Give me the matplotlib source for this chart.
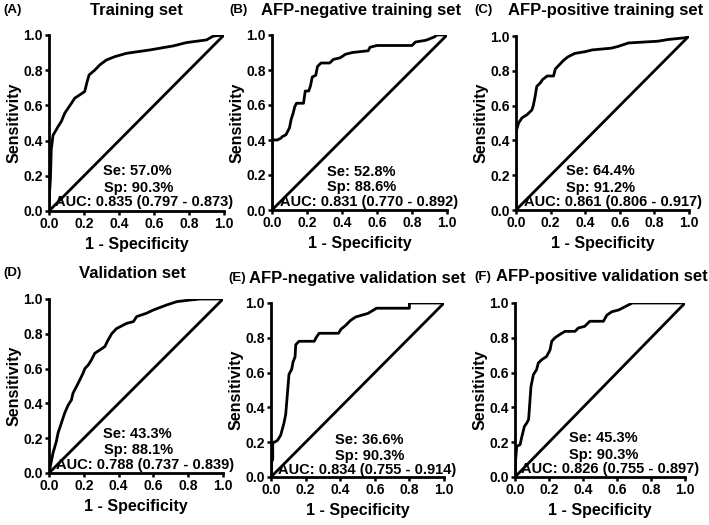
import matplotlib
matplotlib.use("Agg")
import matplotlib.pyplot as plt

plt.rcParams['font.family'] = ['Liberation Sans', 'DejaVu Sans']
plt.rcParams['font.weight'] = 'bold'

# ROC curves: (1 - specificity, sensitivity)
fprA = [0, 0.003, 0.008, 0.013, 0.023, 0.052, 0.071, 0.09, 0.109, 0.128, 0.147, 0.176, 0.204, 0.218, 0.229, 0.261, 0.29, 0.328, 0.376, 0.443, 0.576, 0.71, 0.786, 0.90, 0.939, 1.0]
tprA = [0, 0.10, 0.18, 0.35, 0.43, 0.48, 0.51, 0.556, 0.584, 0.612, 0.641, 0.66, 0.679, 0.735, 0.773, 0.80, 0.83, 0.858, 0.877, 0.896, 0.915, 0.938, 0.957, 0.972, 0.994, 1.0]

fprB = [0, 0, 0.03, 0.05, 0.06, 0.08, 0.09, 0.10, 0.11, 0.12, 0.13, 0.14, 0.18, 0.19, 0.21, 0.22, 0.23, 0.25, 0.26, 0.28, 0.33, 0.35, 0.39, 0.42, 0.46, 0.55, 0.56, 0.60, 0.80, 0.82, 0.88, 0.93, 0.94, 1.0]
tprB = [0, 0.40, 0.40, 0.41, 0.42, 0.43, 0.45, 0.47, 0.52, 0.55, 0.59, 0.61, 0.61, 0.68, 0.68, 0.71, 0.76, 0.77, 0.82, 0.84, 0.84, 0.86, 0.87, 0.89, 0.90, 0.91, 0.93, 0.94, 0.94, 0.96, 0.97, 0.99, 1.0, 1.0]

fprC = [0, 0, 0.015, 0.035, 0.063, 0.092, 0.10, 0.11, 0.12, 0.14, 0.154, 0.18, 0.217, 0.227, 0.246, 0.275, 0.30, 0.34, 0.40, 0.44, 0.55, 0.59, 0.65, 0.82, 0.88, 0.98, 1.0]
tprC = [0, 0.45, 0.50, 0.53, 0.547, 0.575, 0.60, 0.65, 0.71, 0.73, 0.75, 0.77, 0.77, 0.81, 0.83, 0.86, 0.88, 0.90, 0.91, 0.92, 0.93, 0.94, 0.96, 0.97, 0.98, 0.99, 1.0]

fprD = [0, 0.023, 0.042, 0.052, 0.071, 0.09, 0.11, 0.129, 0.138, 0.158, 0.177, 0.196, 0.206, 0.225, 0.244, 0.263, 0.292, 0.321, 0.34, 0.36, 0.388, 0.446, 0.485, 0.504, 0.56, 0.60, 0.677, 0.735, 0.81, 0.87, 1.0]
tprD = [0, 0.115, 0.18, 0.23, 0.287, 0.344, 0.39, 0.42, 0.459, 0.497, 0.535, 0.574, 0.60, 0.62, 0.65, 0.688, 0.707, 0.727, 0.765, 0.80, 0.83, 0.86, 0.87, 0.899, 0.918, 0.937, 0.966, 0.985, 0.994, 1.0, 1.0]

fprE = [0, 0.005, 0.01, 0.01, 0.02, 0.037, 0.056, 0.075, 0.085, 0.095, 0.104, 0.12, 0.127, 0.139, 0.143, 0.162, 0.25, 0.26, 0.278, 0.39, 0.405, 0.43, 0.46, 0.49, 0.56, 0.61, 0.80, 0.80, 1.0]
tprE = [0, 0.10, 0.10, 0.20, 0.20, 0.21, 0.24, 0.31, 0.36, 0.48, 0.59, 0.62, 0.66, 0.69, 0.76, 0.78, 0.78, 0.80, 0.826, 0.826, 0.85, 0.87, 0.90, 0.92, 0.94, 0.97, 0.97, 1.0, 1.0]

fprF = [0, 0.004, 0.01, 0.03, 0.04, 0.055, 0.069, 0.08, 0.094, 0.108, 0.127, 0.137, 0.157, 0.186, 0.206, 0.216, 0.235, 0.265, 0.294, 0.353, 0.372, 0.41, 0.44, 0.52, 0.54, 0.57, 0.61, 0.65, 0.69, 1.0]
tprF = [0, 0.10, 0.176, 0.186, 0.23, 0.29, 0.31, 0.33, 0.52, 0.588, 0.617, 0.655, 0.674, 0.693, 0.73, 0.78, 0.80, 0.82, 0.837, 0.837, 0.856, 0.866, 0.895, 0.895, 0.93, 0.95, 0.96, 0.98, 1.0, 1.0]

letters = ["(A)", "(B)", "(C)", "(D)", "(E)", "(F)"]
titles = ["Training set", "AFP-negative training set", "AFP-positive training set",
          "Validation set", "AFP-negative validation set", "AFP-positive validation set"]
seText = ["Se: 57.0%", "Se: 52.8%", "Se: 64.4%", "Se: 43.3%", "Se: 36.6%", "Se: 45.3%"]
spText = ["Sp: 90.3%", "Sp: 88.6%", "Sp: 91.2%", "Sp: 88.1%", "Sp: 90.3%", "Sp: 90.3%"]
aucText = ["AUC: 0.835 (0.797 - 0.873)", "AUC: 0.831 (0.770 - 0.892)", "AUC: 0.861 (0.806 - 0.917)",
           "AUC: 0.788 (0.737 - 0.839)", "AUC: 0.834 (0.755 - 0.914)", "AUC: 0.826 (0.755 - 0.897)"]
curves = [(fprA, tprA), (fprB, tprB), (fprC, tprC), (fprD, tprD), (fprE, tprE), (fprF, tprF)]

W, H = 709.0, 525.0
# axes boxes in pixels: left, right, top, bottom
boxes = [(49, 224, 35, 211), (272, 447, 35, 210), (516, 689, 36, 210),
         (49, 223, 299, 473), (271, 444, 303, 477), (515, 685, 303, 477)]
# text centres in data coords: (se_x, se_y, sp_x, sp_y, auc_x, auc_y)
textPos = [(0.504, 0.225, 0.51, 0.13, 0.542, 0.053),
           (0.51, 0.22, 0.513, 0.131, 0.552, 0.046),
           (0.49, 0.222, 0.49, 0.126, 0.558, 0.046),
           (0.508, 0.226, 0.517, 0.13, 0.552, 0.048),
           (0.568, 0.214, 0.568, 0.122, 0.558, 0.042),
           (0.52, 0.224, 0.524, 0.128, 0.559, 0.048)]
# header positions in pixels: letter left x, title centre x, y
headPos = [(3, 136, 10), (229, 361, 10), (474, 606, 10),
           (3, 132, 273), (228, 357, 278), (474, 602, 277)]

fig = plt.figure(figsize=(7.09, 5.25), dpi=100)

for i in range(6):
	l, r, t, b = boxes[i]
	ax = fig.add_axes([l / W, (H - b) / H, (r - l) / W, (b - t) / H])
	fpr, tpr = curves[i]
	ax.plot([0, 1], [0, 1], color='black', lw=2.0, solid_capstyle='butt')
	ax.plot(fpr, tpr, color='black', lw=2.0)
	ax.set_xlim(0, 1)
	ax.set_ylim(0, 1)
	ax.set_xticks([0, 0.2, 0.4, 0.6, 0.8, 1.0])
	ax.set_yticks([0, 0.2, 0.4, 0.6, 0.8, 1.0])
	ax.set_xticklabels(["0.0", "0.2", "0.4", "0.6", "0.8", "1.0"])
	ax.set_yticklabels(["0.0", "0.2", "0.4", "0.6", "0.8", "1.0"])
	ax.tick_params(direction='out', length=3, width=1.8, labelsize=10, pad=1.5)
	for s in ['top', 'right']:
		ax.spines[s].set_visible(False)
	for s in ['left', 'bottom']:
		ax.spines[s].set_linewidth(2.0)
	ax.set_xlabel('1 - Specificity', fontsize=11.5, fontweight='bold', labelpad=4)
	ax.set_ylabel('Sensitivity', fontsize=11.5, fontweight='bold', labelpad=1)

	sx, sy, px, py, axx, ayy = textPos[i]
	ax.text(sx, sy, seText[i], ha='center', va='center', fontsize=10.5, fontweight='bold')
	ax.text(px, py, spText[i], ha='center', va='center', fontsize=10.5, fontweight='bold')
	ax.text(axx, ayy, aucText[i], ha='center', va='center', fontsize=10.5, fontweight='bold', clip_on=False)

	lx, tx, ty = headPos[i]
	fig.text(lx / W, 1 - ty / H, letters[i], ha='left', va='center', fontsize=9.5, fontweight='bold')
	fig.text(tx / W, 1 - ty / H, titles[i], ha='center', va='center', fontsize=12, fontweight='bold')

fig.savefig("out.png", dpi=100)
